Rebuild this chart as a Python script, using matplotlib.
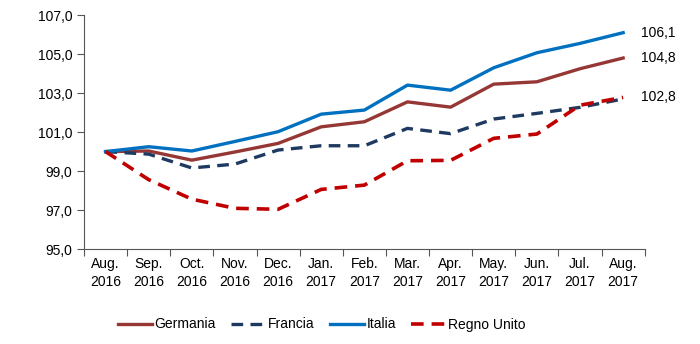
import matplotlib
matplotlib.use("Agg")
import matplotlib.pyplot as plt

plt.rcParams['font.family'] = ['Liberation Sans', 'DejaVu Sans']
fs = 10

months = ["Aug.\n2016", "Sep.\n2016", "Oct.\n2016", "Nov.\n2016", "Dec.\n2016",
          "Jan.\n2017", "Feb.\n2017", "Mar.\n2017", "Apr.\n2017", "May.\n2017",
          "Jun.\n2017", "Jul.\n2017", "Aug.\n2017"]
germania = [100.0, 100.03, 99.56, 99.98, 100.42, 101.27, 101.53, 102.55, 102.28, 103.46, 103.58, 104.25, 104.8]
francia = [100.0, 99.87, 99.16, 99.36, 100.08, 100.3, 100.3, 101.19, 100.92, 101.67, 101.96, 102.27, 102.7]
italia = [100.0, 100.25, 100.03, 100.52, 101.02, 101.92, 102.13, 103.41, 103.15, 104.3, 105.07, 105.55, 106.1]
regno_unito = [100.0, 98.56, 97.56, 97.09, 97.04, 98.06, 98.28, 99.53, 99.55, 100.68, 100.9, 102.38, 102.78]
end_labels = ["106,1", "104,8", "102,8"]
end_values = [106.1, 104.8, 102.8]

fig = plt.figure(figsize=(7, 3.44), dpi=100)
ax = fig.add_axes([0.12, 0.276, 0.801, 0.68])

x = range(len(months))
ax.plot(x, germania, color="#953735", lw=2.4, label="Germania")
ax.plot(x, francia, color="#1F3A60", lw=2.4, ls=(0, (3.5, 2.2)), label="Francia")
ax.plot(x, italia, color="#0070C0", lw=2.4, label="Italia")
ax.plot(x, regno_unito, color="#C00000", lw=2.6, ls=(0, (3.5, 2.2)), label="Regno Unito")

for lab, v in zip(end_labels, end_values):
    ax.text(len(months) - 0.5 - 0.08, v, lab, va="center", ha="left", fontsize=fs)

ax.set_xlim(-0.5, len(months) - 0.5)
ax.set_ylim(95, 107)
yt = [95, 97, 99, 101, 103, 105, 107]
ax.set_yticks(yt)
ax.set_yticklabels([f"{v:.1f}".replace(".", ",") for v in yt], fontsize=fs)
ax.set_xticks(list(x))
ax.set_xticklabels(months, fontsize=fs, linespacing=1.35)
ax.tick_params(axis="x", which="major", length=0, pad=6)
ax.set_xticks([i - 0.5 for i in range(len(months) + 1)], minor=True)
ax.tick_params(axis="x", which="minor", length=5, width=0.8, color="#555555")
ax.tick_params(axis="y", length=5, width=0.8, color="#555555")
for s in ["top", "right"]:
    ax.spines[s].set_visible(False)
for s in ["left", "bottom"]:
    ax.spines[s].set_color("#555555")
    ax.spines[s].set_linewidth(0.8)

fig.legend(loc="lower left", bbox_to_anchor=(0.15, 0.0), ncol=4, frameon=False,
           fontsize=fs, handlelength=2.5, handletextpad=0.15, columnspacing=1.1)

fig.savefig("out.png", dpi=100)
